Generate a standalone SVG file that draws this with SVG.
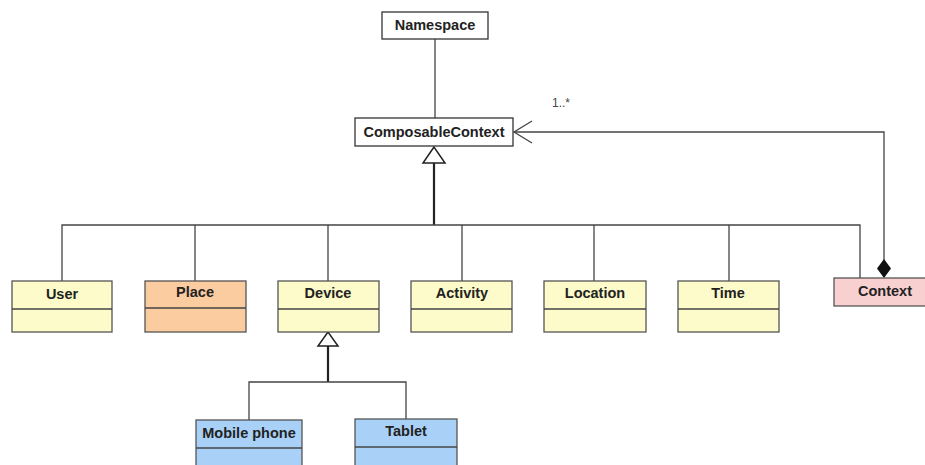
<svg xmlns="http://www.w3.org/2000/svg" width="925" height="465" viewBox="0 0 925 465">
<style>
.box{stroke:#555;stroke-width:1.3}
.plain{fill:#fff;stroke:#333;stroke-width:1.3}
.yel{fill:#fdfbc9}
.peach{fill:#fbcca0}
.pink{fill:#f9d0d0}
.blue{fill:#a9d1f7}
.div{stroke:#444;stroke-width:1.5}
.t{font-family:"Liberation Sans",Arial,sans-serif;font-weight:bold;font-size:14.5px;fill:#222;text-anchor:middle}
.ln{fill:none;stroke:#444;stroke-width:1.3}
.thick{fill:none;stroke:#222;stroke-width:2.2}
.lbl{font-family:"Liberation Sans",Arial,sans-serif;font-size:12px;fill:#444}
</style>
<rect width="925" height="465" fill="#fff"/>
<g id="connectors">
  <line class="ln" x1="435" y1="39" x2="435" y2="118"/>
  <line class="thick" x1="434" y1="163" x2="434" y2="225"/>
  <polyline class="ln" points="62,281 62,225 860,225 860,279"/>
  <line class="ln" x1="195" y1="225" x2="195" y2="281"/>
  <line class="ln" x1="328" y1="225" x2="328" y2="281"/>
  <line class="ln" x1="462" y1="225" x2="462" y2="281"/>
  <line class="ln" x1="594" y1="225" x2="594" y2="281"/>
  <line class="ln" x1="729" y1="225" x2="729" y2="281"/>
  <polygon points="434,147 423,163 445,163" fill="#fff" stroke="#222" stroke-width="1.5"/>
  <polyline class="ln" points="884,260 884,132 514,132"/>
  <polyline class="ln" points="532,121 514,132 532,143"/>
  <polygon points="884,259 891,268.5 884,278 877,268.5" fill="#111"/>
  <text class="lbl" x="552" y="107">1..*</text>
  <line class="thick" x1="328" y1="346" x2="328" y2="382"/>
  <polyline class="ln" points="249,420 249,382 406,382 406,419"/>
  <polygon points="328,332 318,346 338,346" fill="#fff" stroke="#222" stroke-width="1.5"/>
</g>
<g id="Namespace">
  <rect class="plain" x="382" y="12" width="106" height="27"/>
  <text class="t" x="435" y="30">Namespace</text>
</g>
<g id="ComposableContext">
  <rect class="plain" x="355" y="118" width="158" height="28"/>
  <text class="t" x="434" y="137">ComposableContext</text>
</g>
<g id="User">
  <rect class="box yel" x="12" y="281" width="100" height="51"/>
  <line class="div" x1="12" y1="309" x2="112" y2="309"/>
  <text class="t" x="62" y="299">User</text>
</g>
<g id="Place">
  <rect class="box peach" x="145" y="281" width="101" height="51"/>
  <line class="div" x1="145" y1="308" x2="246" y2="308"/>
  <text class="t" x="195" y="297">Place</text>
</g>
<g id="Device">
  <rect class="box yel" x="278" y="281" width="101" height="51"/>
  <line class="div" x1="278" y1="309" x2="379" y2="309"/>
  <text class="t" x="328" y="298">Device</text>
</g>
<g id="Activity">
  <rect class="box yel" x="411" y="281" width="101" height="51"/>
  <line class="div" x1="411" y1="309" x2="512" y2="309"/>
  <text class="t" x="462" y="298">Activity</text>
</g>
<g id="Location">
  <rect class="box yel" x="544" y="281" width="102" height="51"/>
  <line class="div" x1="544" y1="309" x2="646" y2="309"/>
  <text class="t" x="595" y="298">Location</text>
</g>
<g id="Time">
  <rect class="box yel" x="678" y="281" width="101" height="51"/>
  <line class="div" x1="678" y1="309" x2="779" y2="309"/>
  <text class="t" x="728" y="298">Time</text>
</g>
<g id="Context">
  <rect class="box pink" x="834" y="278" width="95" height="28"/>
  <text class="t" x="885" y="296">Context</text>
</g>
<g id="MobilePhone">
  <rect class="box blue" x="196" y="420" width="106" height="50"/>
  <line class="div" x1="196" y1="448" x2="302" y2="448"/>
  <text class="t" x="249" y="438">Mobile phone</text>
</g>
<g id="Tablet">
  <rect class="box blue" x="355" y="419" width="102" height="50"/>
  <line class="div" x1="355" y1="447" x2="457" y2="447"/>
  <text class="t" x="406" y="436">Tablet</text>
</g>
</svg>
